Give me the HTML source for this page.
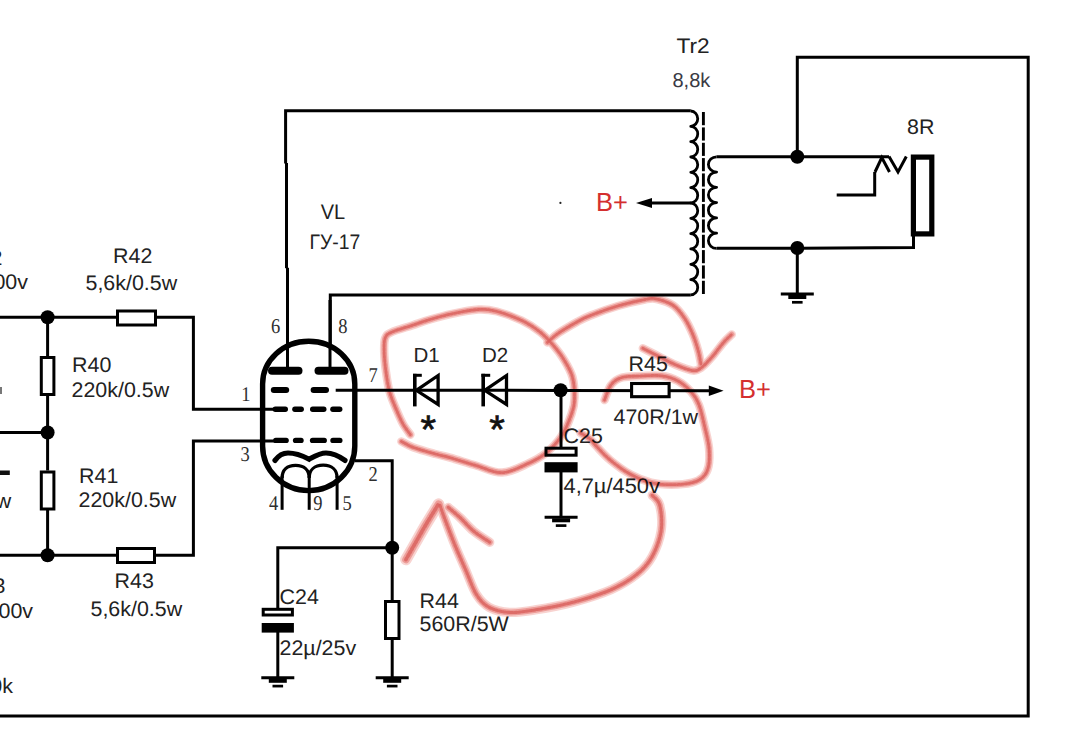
<!DOCTYPE html>
<html><head><meta charset="utf-8"><style>
html,body{margin:0;padding:0;background:#fff;width:1080px;height:735px;overflow:hidden}
svg{display:block}
</style></head><body>
<svg width="1080" height="735" viewBox="0 0 1080 735">
<rect width="1080" height="735" fill="#fff"/>
<g fill="none" stroke="#000" stroke-linecap="butt" stroke-linejoin="miter">
<polyline points="797.3,156 797.3,57.3 1028.2,57.3 1028.2,716 0,716" stroke-width="3"/>
<polyline points="285.6,163.5 285.6,110.8 690.8,110.8" stroke-width="3" stroke-linejoin="miter"/><line x1="286.5" y1="163" x2="286.5" y2="268.2" stroke-width="3"/><line x1="287.5" y1="267.8" x2="287.5" y2="369" stroke-width="3"/>
<polyline points="330.3,369 330.3,295 690.8,295" stroke-width="3" stroke-linejoin="miter"/>
<path d="M690.8,111.00 a7.20,7.67 0 0 1 0,15.33 a7.20,7.67 0 0 1 0,15.33 a7.20,7.67 0 0 1 0,15.33 a7.20,7.67 0 0 1 0,15.33 a7.20,7.67 0 0 1 0,15.33 a7.20,7.67 0 0 1 0,15.33 a7.20,7.67 0 0 1 0,15.33 a7.20,7.67 0 0 1 0,15.33 a7.20,7.67 0 0 1 0,15.33 a7.20,7.67 0 0 1 0,15.33 a7.20,7.67 0 0 1 0,15.33 a7.20,7.67 0 0 1 0,15.33" stroke-width="2.8" stroke-linejoin="round"/>
<path d="M716.6,156.80 a8.20,7.63 0 0 0 0,15.27 a8.20,7.63 0 0 0 0,15.27 a8.20,7.63 0 0 0 0,15.27 a8.20,7.63 0 0 0 0,15.27 a8.20,7.63 0 0 0 0,15.27 a8.20,7.63 0 0 0 0,15.27" stroke-width="2.8" stroke-linejoin="round"/>
<line x1="703.4" y1="112" x2="703.4" y2="294" stroke-width="2.9"/>
<line x1="699.5" y1="126.33" x2="707.5" y2="126.33" stroke="#fff" stroke-width="2.2"/>
<line x1="699.5" y1="141.67" x2="707.5" y2="141.67" stroke="#fff" stroke-width="2.2"/>
<line x1="699.5" y1="157.00" x2="707.5" y2="157.00" stroke="#fff" stroke-width="2.2"/>
<line x1="699.5" y1="172.33" x2="707.5" y2="172.33" stroke="#fff" stroke-width="2.2"/>
<line x1="699.5" y1="187.67" x2="707.5" y2="187.67" stroke="#fff" stroke-width="2.2"/>
<line x1="699.5" y1="203.00" x2="707.5" y2="203.00" stroke="#fff" stroke-width="2.2"/>
<line x1="699.5" y1="218.33" x2="707.5" y2="218.33" stroke="#fff" stroke-width="2.2"/>
<line x1="699.5" y1="233.67" x2="707.5" y2="233.67" stroke="#fff" stroke-width="2.2"/>
<line x1="699.5" y1="249.00" x2="707.5" y2="249.00" stroke="#fff" stroke-width="2.2"/>
<line x1="699.5" y1="264.33" x2="707.5" y2="264.33" stroke="#fff" stroke-width="2.2"/>
<line x1="699.5" y1="279.67" x2="707.5" y2="279.67" stroke="#fff" stroke-width="2.2"/>
<line x1="650" y1="203" x2="690.8" y2="203" stroke-width="2.8"/>
<polygon points="636,203 652,198 652,208" fill="#000" stroke="none"/>
<polyline points="716.6,156.8 889,156.8" stroke-width="3"/>
<polyline points="716.6,248.2 800,248.2 913.5,247.6 913.5,236" stroke-width="3"/>
<circle cx="797.3" cy="156.8" r="7" fill="#000" stroke="none"/>
<circle cx="797.3" cy="248" r="7" fill="#000" stroke="none"/>
<line x1="797.3" y1="248" x2="797.3" y2="294" stroke-width="3"/>
<line x1="780.8" y1="294" x2="813.8" y2="294" stroke-width="3"/><line x1="788.3" y1="297" x2="806.3" y2="297" stroke-width="4"/><line x1="792.0" y1="302.3" x2="802.5999999999999" y2="302.3" stroke-width="2.7"/>
<polyline points="889,156.5 898,172 906.3,156.5" stroke-width="3"/>
<polyline points="875,172 881.8,157.5 889.5,172" stroke-width="3"/>
<polyline points="874.7,172 874.7,195 836.7,195" stroke-width="3"/>
<rect x="913.4" y="157.1" width="18.4" height="76.8" stroke-width="5.2" fill="#fff"/>
<path d="M262.6,384 A46.1,42.7 0 0 1 354.8,384 L354.8,446 A46.1,44.6 0 0 1 262.6,446 Z" stroke-width="5.4" fill="#fff"/>
<line x1="272" y1="370.7" x2="298.5" y2="370.7" stroke-width="8" stroke-linecap="round"/>
<line x1="318.5" y1="370.7" x2="344.5" y2="370.7" stroke-width="8" stroke-linecap="round"/>
<line x1="287.5" y1="300" x2="287.5" y2="370" stroke-width="3"/>
<line x1="330" y1="300" x2="330" y2="370" stroke-width="3"/>
<line x1="273.8" y1="390" x2="286.2" y2="390" stroke-width="6" stroke-linecap="round"/>
<line x1="313.6" y1="390" x2="326" y2="390" stroke-width="6" stroke-linecap="round"/>
<line x1="335.7" y1="390.3" x2="414" y2="390.3" stroke-width="3"/>
<line x1="275.3" y1="409.2" x2="285.3" y2="409.2" stroke-width="5.4" stroke-linecap="round"/>
<line x1="294.9" y1="409.2" x2="301.2" y2="409.2" stroke-width="5.4" stroke-linecap="round"/>
<line x1="312.7" y1="409.2" x2="323.8" y2="409.2" stroke-width="5.4" stroke-linecap="round"/>
<line x1="332.9" y1="409.2" x2="339.7" y2="409.2" stroke-width="5.4" stroke-linecap="round"/>
<line x1="275.8" y1="440.4" x2="286.1" y2="440.4" stroke-width="5.4" stroke-linecap="round"/>
<line x1="295.59999999999997" y1="440.4" x2="301.0" y2="440.4" stroke-width="5.4" stroke-linecap="round"/>
<line x1="312.59999999999997" y1="440.4" x2="324.2" y2="440.4" stroke-width="5.4" stroke-linecap="round"/>
<line x1="333.0" y1="440.4" x2="339.8" y2="440.4" stroke-width="5.4" stroke-linecap="round"/>
<path d="M275,460.4 C279,455 283,453 288,453 C297,453 303,456 309.2,459.2 C315,456 320,453 326,453 C333,453 339,456 345,460.4" stroke-width="5.2" stroke-linecap="round"/>
<path d="M282.1,478 C282.1,470 287,465.4 295.6,465.4 C304,465.4 309.2,470 309.2,478 M309.2,478 C309.2,470 314.5,465.2 323.2,465.2 C332,465.2 337.1,470 337.1,478" stroke-width="3.3"/>
<line x1="282.1" y1="476" x2="282.1" y2="509.8" stroke-width="3"/>
<line x1="309.2" y1="476" x2="309.2" y2="509.8" stroke-width="3"/>
<line x1="337.1" y1="476" x2="337.1" y2="509.8" stroke-width="3"/>
<polyline points="0,317.3 116,317.3" stroke-width="3"/>
<polyline points="156,317.3 193.4,317.3 193.4,409.2 275,409.2" stroke-width="3"/>
<polyline points="275,441 193.4,441 193.4,555.3 155.5,555.3" stroke-width="3"/>
<polyline points="116,555.3 0,555.3" stroke-width="3"/>
<polyline points="0,432.5 47.6,432.5" stroke-width="3"/>
<line x1="47.6" y1="317.3" x2="47.6" y2="356" stroke-width="3"/>
<line x1="47.6" y1="396" x2="47.6" y2="470.5" stroke-width="3"/>
<line x1="47.6" y1="510" x2="47.6" y2="555.3" stroke-width="3"/>
<circle cx="47.6" cy="317.3" r="7" fill="#000" stroke="none"/>
<circle cx="47.6" cy="432.5" r="7" fill="#000" stroke="none"/>
<circle cx="47.6" cy="555.3" r="7" fill="#000" stroke="none"/>
<rect x="117.5" y="311" width="38" height="14" stroke-width="3" fill="#fff"/>
<rect x="117.5" y="548.5" width="37" height="14" stroke-width="3" fill="#fff"/>
<rect x="41.3" y="357.5" width="12.6" height="37" stroke-width="3" fill="#fff"/>
<rect x="41.3" y="472" width="12.6" height="37" stroke-width="3" fill="#fff"/>
<polyline points="355,460.8 392.2,460.8 392.2,601.5" stroke-width="3"/>
<rect x="385.5" y="601.5" width="13.5" height="37" stroke-width="3" fill="#fff"/>
<line x1="392.2" y1="640" x2="392.2" y2="678" stroke-width="3"/>
<line x1="375.7" y1="677.8" x2="408.7" y2="677.8" stroke-width="3"/><line x1="383.2" y1="680.8" x2="401.2" y2="680.8" stroke-width="4"/><line x1="386.9" y1="686.0999999999999" x2="397.5" y2="686.0999999999999" stroke-width="2.7"/>
<circle cx="392.2" cy="547.8" r="7" fill="#000" stroke="none"/>
<polyline points="392.2,547.8 277.8,547.8 277.8,609" stroke-width="3"/>
<rect x="263.2" y="609.3" width="29.2" height="5.7" stroke-width="3" fill="#fff"/>
<rect x="261.7" y="623" width="32.2" height="9.6" fill="#000" stroke="none"/>
<line x1="277.8" y1="632" x2="277.8" y2="678" stroke-width="3"/>
<line x1="261.3" y1="677.8" x2="294.3" y2="677.8" stroke-width="3"/><line x1="268.8" y1="680.8" x2="286.8" y2="680.8" stroke-width="4"/><line x1="272.5" y1="686.0999999999999" x2="283.1" y2="686.0999999999999" stroke-width="2.7"/>
<line x1="414.8" y1="373.8" x2="414.8" y2="406.4" stroke-width="3.6"/>
<line x1="413.0" y1="375.3" x2="421.8" y2="375.3" stroke-width="3"/>
<polygon points="416.3,390.3 438.1,375.5 438.1,404.5" stroke-width="3.3" fill="none" stroke-linejoin="miter"/>
<line x1="483.2" y1="373.8" x2="483.2" y2="406.4" stroke-width="3.6"/>
<line x1="481.4" y1="375.3" x2="490.2" y2="375.3" stroke-width="3"/>
<polygon points="484.7,390.3 506.5,375.5 506.5,404.5" stroke-width="3.3" fill="none" stroke-linejoin="miter"/>
<polyline points="414,390.3 560,390.4 709,390.8" stroke-width="3"/>
<circle cx="560.6" cy="390.3" r="7" fill="#000" stroke="none"/>
<line x1="561" y1="390" x2="561" y2="448" stroke-width="3"/>
<rect x="546" y="448.2" width="30.1" height="7" stroke-width="3" fill="#fff"/>
<rect x="544.5" y="462.2" width="33.1" height="10.2" fill="#000" stroke="none"/>
<line x1="561" y1="472" x2="561" y2="517.3" stroke-width="3"/>
<line x1="544.6" y1="517.3" x2="577.6" y2="517.3" stroke-width="3"/><line x1="552.1" y1="520.3" x2="570.1" y2="520.3" stroke-width="4"/><line x1="555.8000000000001" y1="525.5999999999999" x2="566.4" y2="525.5999999999999" stroke-width="2.7"/>
<rect x="631.6" y="383.5" width="37.5" height="13.2" stroke-width="3.1" fill="#fff"/>
<polygon points="723.6,390.8 708.8,385.5 708.8,396" fill="#000" stroke="none"/>
<circle cx="560.4" cy="202.9" r="1.1" fill="#222" stroke="none"/><rect x="0" y="470.5" width="9.8" height="4.5" fill="#111" stroke="none"/><rect x="0" y="387" width="2" height="7" fill="#777" stroke="none"/>
</g>
<g text-rendering="geometricPrecision">
<text transform="translate(676.5,53) scale(1.08,1)" font-size="21" fill="#222" font-family="Liberation Sans" >Tr2</text><text transform="translate(672.5,86.5) scale(1.0,1)" font-size="20" fill="#3a3a44" font-family="Liberation Sans" >8,8k</text><text transform="translate(907,134) scale(1.02,1)" font-size="21" fill="#222" font-family="Liberation Sans" >8R</text><text transform="translate(320.8,218.5) scale(0.95,1)" font-size="21" fill="#222" font-family="Liberation Sans" >VL</text><text transform="translate(309.5,249) scale(0.92,1)" font-size="21" fill="#222" font-family="Liberation Sans" >ГУ-17</text><text transform="translate(596,210.5) scale(0.98,1)" font-size="26" fill="#d42f2f" font-family="Liberation Sans" >B+</text><text transform="translate(739,398.3) scale(0.98,1)" font-size="26" fill="#d42f2f" font-family="Liberation Sans" >B+</text><text transform="translate(113,263) scale(1.02,1)" font-size="21" fill="#222" font-family="Liberation Sans" >R42</text><text transform="translate(85.5,290) scale(1.02,1)" font-size="21" fill="#222" font-family="Liberation Sans" >5,6k/0.5w</text><text transform="translate(72,371.5) scale(1.02,1)" font-size="21" fill="#222" font-family="Liberation Sans" >R40</text><text transform="translate(71.5,396.5) scale(1.02,1)" font-size="21" fill="#222" font-family="Liberation Sans" >220k/0.5w</text><text transform="translate(79,482.5) scale(1.02,1)" font-size="21" fill="#222" font-family="Liberation Sans" >R41</text><text transform="translate(78.5,506.5) scale(1.02,1)" font-size="21" fill="#222" font-family="Liberation Sans" >220k/0.5w</text><text transform="translate(114.5,588.3) scale(1.02,1)" font-size="21" fill="#222" font-family="Liberation Sans" >R43</text><text transform="translate(90.5,616) scale(1.02,1)" font-size="21" fill="#222" font-family="Liberation Sans" >5,6k/0.5w</text><text transform="translate(279.5,604) scale(1.02,1)" font-size="21" fill="#222" font-family="Liberation Sans" >C24</text><text transform="translate(279.5,654.5) scale(1.02,1)" font-size="21" fill="#222" font-family="Liberation Sans" >22µ/25v</text><text transform="translate(419.5,607.5) scale(1.02,1)" font-size="21" fill="#222" font-family="Liberation Sans" >R44</text><text transform="translate(419.5,631) scale(1.02,1)" font-size="21" fill="#222" font-family="Liberation Sans" >560R/5W</text><text transform="translate(413.5,362.3) scale(1.0,1)" font-size="20.5" fill="#222" font-family="Liberation Sans" >D1</text><text transform="translate(482,362.3) scale(1.0,1)" font-size="20.5" fill="#222" font-family="Liberation Sans" >D2</text><text transform="translate(628.5,371) scale(1.02,1)" font-size="21" fill="#222" font-family="Liberation Sans" >R45</text><text transform="translate(613.5,423.5) scale(1.02,1)" font-size="21" fill="#222" font-family="Liberation Sans" >470R/1w</text><text transform="translate(563.5,443) scale(1.02,1)" font-size="21" fill="#222" font-family="Liberation Sans" >C25</text><text transform="translate(563.5,493.3) scale(1.04,1)" font-size="21" fill="#222" font-family="Liberation Sans" >4,7µ/450v</text><text transform="translate(-18.5,288.5) scale(1.02,1)" font-size="21" fill="#222" font-family="Liberation Sans" >300v</text><text transform="translate(-13.4,618) scale(1.02,1)" font-size="21" fill="#222" font-family="Liberation Sans" >300v</text><text transform="translate(-21.6,692.5) scale(1.02,1)" font-size="21" fill="#222" font-family="Liberation Sans" >10k</text><text transform="translate(-9.5,264.5) scale(1.02,1)" font-size="21" fill="#222" font-family="Liberation Sans" >2</text><text transform="translate(-6.5,592.5) scale(1.02,1)" font-size="21" fill="#222" font-family="Liberation Sans" >3</text><text transform="translate(-34,507.5) scale(1.02,1)" font-size="21" fill="#222" font-family="Liberation Sans" >0.5w</text><text transform="translate(420.5,443) scale(1.0,1)" font-size="40" fill="#111" font-family="Liberation Sans" stroke="#111" stroke-width="0.7">*</text><text transform="translate(489.2,443) scale(1.0,1)" font-size="40" fill="#111" font-family="Liberation Sans" stroke="#111" stroke-width="0.7">*</text><text transform="translate(271,333) scale(0.88,1)" font-size="21" fill="#2e2e2e" font-family="Liberation Serif" >6</text><text transform="translate(338.3,333) scale(0.88,1)" font-size="21" fill="#2e2e2e" font-family="Liberation Serif" >8</text><text transform="translate(241.3,401) scale(0.88,1)" font-size="21" fill="#2e2e2e" font-family="Liberation Serif" >1</text><text transform="translate(240.5,461.3) scale(0.88,1)" font-size="21" fill="#2e2e2e" font-family="Liberation Serif" >3</text><text transform="translate(368.5,382) scale(0.88,1)" font-size="21" fill="#2e2e2e" font-family="Liberation Serif" >7</text><text transform="translate(368.5,481) scale(0.88,1)" font-size="21" fill="#2e2e2e" font-family="Liberation Serif" >2</text><text transform="translate(269,509.6) scale(0.88,1)" font-size="21" fill="#2e2e2e" font-family="Liberation Serif" >4</text><text transform="translate(313.2,509.6) scale(0.88,1)" font-size="21" fill="#2e2e2e" font-family="Liberation Serif" >9</text><text transform="translate(342.5,509.6) scale(0.88,1)" font-size="21" fill="#2e2e2e" font-family="Liberation Serif" >5</text>
</g>
<g fill="none" stroke-linecap="round" stroke-linejoin="round" style="mix-blend-mode:multiply">
<path d="M401.4,441.5 C403.4,442.5 407.9,445.4 413.6,447.5 C419.3,449.6 429.3,452.3 435.4,454.0 C441.5,455.7 443.2,455.8 450.0,457.7 C456.8,459.6 467.3,463.0 476.0,465.5 C484.7,468.0 493.3,472.9 502.0,472.6 C510.7,472.3 520.7,466.8 528.0,463.5 C535.3,460.2 540.4,457.6 546.0,453.0 C551.6,448.4 557.2,442.5 561.5,436.0 C565.8,429.5 569.3,420.3 571.5,414.0 C573.7,407.7 574.4,404.2 574.5,398.0 C574.6,391.8 574.2,383.5 572.4,377.0 C570.6,370.5 566.7,364.3 563.5,359.0 C560.3,353.7 556.9,349.5 553.0,345.0 C549.1,340.5 545.2,336.1 540.0,332.0 C534.8,327.9 528.9,323.9 521.7,320.5 C514.5,317.1 504.2,313.3 497.0,311.5 C489.8,309.7 486.1,309.1 478.6,309.5 C471.1,309.9 460.1,312.1 452.0,313.8 C443.9,315.5 436.5,317.6 430.0,319.5 C423.5,321.4 419.1,323.1 412.8,325.2 C406.5,327.3 396.6,329.9 392.0,332.0 C387.4,334.1 386.5,334.7 385.2,338.0 C383.9,341.3 384.1,346.3 384.2,352.0 C384.3,357.7 385.1,365.4 386.0,372.0 C386.9,378.6 387.8,385.2 389.5,391.5 C391.2,397.8 394.2,404.6 396.5,410.0 C398.8,415.4 400.7,419.9 403.0,424.0 C405.3,428.1 409.2,432.9 410.4,434.7" stroke="#f7cbc8" stroke-width="8.50" opacity="0.85" />
<path d="M547.4,342.4 C549.2,340.8 553.6,336.5 558.5,333.1 C563.4,329.7 571.8,324.9 577.0,322.0 C582.2,319.1 583.2,318.4 590.0,315.7 C596.8,313.0 608.6,308.7 617.8,306.0 C627.0,303.3 638.5,300.7 645.0,299.5 C651.5,298.3 652.0,298.0 656.7,299.0 C661.4,300.0 668.7,302.3 673.3,305.5 C677.9,308.7 681.1,313.2 684.4,318.0 C687.6,322.8 690.5,328.9 692.8,334.4 C695.1,339.9 696.9,346.0 698.3,351.1 C699.7,356.2 700.6,362.7 701.1,365.0" stroke="#f7cbc8" stroke-width="8.50" opacity="0.85" />
<path d="M642.8,348.3 C645.6,349.7 653.8,353.9 659.4,356.7 C665.0,359.5 670.5,362.7 676.1,365.0 C681.7,367.3 688.6,370.1 692.8,370.6 C697.0,371.1 697.9,370.1 701.1,367.8 C704.3,365.5 708.5,360.9 712.2,356.7 C715.9,352.5 720.0,346.5 723.3,342.8 C726.5,339.1 730.3,335.8 731.7,334.4" stroke="#f7cbc8" stroke-width="8.50" opacity="0.85" />
<path d="M580.5,433.0 C582.1,434.0 587.4,436.9 590.0,439.0 C592.6,441.1 592.7,442.4 596.1,445.9 C599.5,449.4 604.6,455.4 610.4,460.2 C616.2,465.0 624.0,470.8 630.8,474.5 C637.6,478.2 644.4,481.0 651.2,482.7 C658.0,484.4 664.8,484.7 671.6,484.7 C678.4,484.7 686.8,484.0 692.0,482.7 C697.2,481.4 700.2,479.7 703.0,477.0 C705.8,474.3 707.5,471.1 708.5,466.3 C709.5,461.5 709.6,454.4 709.0,448.0 C708.4,441.6 706.7,435.2 705.0,428.0 C703.3,420.8 701.3,411.0 699.0,405.0 C696.7,399.0 694.5,395.8 691.0,391.8 C687.5,387.8 682.9,383.7 678.0,381.0 C673.1,378.3 667.6,376.6 661.4,375.8 C655.2,375.0 647.6,375.7 641.0,376.0 C634.4,376.3 627.0,376.0 622.0,377.5 C617.0,379.0 613.9,381.2 611.0,385.0 C608.1,388.8 605.6,397.5 604.5,400.0" stroke="#f7cbc8" stroke-width="8.50" opacity="0.85" />
<path d="M652.2,495.3 C653.5,497.0 658.3,499.6 659.8,505.5 C661.3,511.4 662.4,522.4 661.1,530.9 C659.8,539.4 656.2,549.2 652.2,556.4 C648.2,563.6 643.7,568.7 636.9,574.2 C630.1,579.7 622.1,584.8 611.5,589.5 C600.9,594.2 586.0,598.8 573.3,602.2 C560.5,605.6 545.6,608.2 535.0,609.9 C524.4,611.6 517.2,612.8 509.6,612.4 C502.0,612.0 494.7,610.3 489.2,607.3 C483.7,604.3 480.4,600.8 476.5,594.6 C472.6,588.4 469.1,577.8 465.7,570.0 C462.3,562.2 458.9,554.7 456.1,548.0 C453.3,541.3 451.2,535.7 449.0,530.0 C446.8,524.3 444.6,518.3 443.0,514.0 C441.4,509.7 440.2,505.8 439.6,504.2" stroke="#f7cbc8" stroke-width="9.35" opacity="0.85" />
<path d="M405.9,559.6 C407.5,556.8 412.0,548.9 415.4,543.0 C418.8,537.1 422.1,531.0 426.0,524.5 C429.9,518.0 436.4,507.5 438.5,504.1" stroke="#f7cbc8" stroke-width="11.48" opacity="0.85" />
<path d="M448.3,507.4 C450.2,509.1 455.8,513.6 460.0,517.5 C464.2,521.4 468.6,526.9 473.5,531.0 C478.4,535.1 487.0,540.3 489.7,542.2" stroke="#f7cbc8" stroke-width="9.35" opacity="0.85" />
<path d="M401.4,441.5 C403.4,442.5 407.9,445.4 413.6,447.5 C419.3,449.6 429.3,452.3 435.4,454.0 C441.5,455.7 443.2,455.8 450.0,457.7 C456.8,459.6 467.3,463.0 476.0,465.5 C484.7,468.0 493.3,472.9 502.0,472.6 C510.7,472.3 520.7,466.8 528.0,463.5 C535.3,460.2 540.4,457.6 546.0,453.0 C551.6,448.4 557.2,442.5 561.5,436.0 C565.8,429.5 569.3,420.3 571.5,414.0 C573.7,407.7 574.4,404.2 574.5,398.0 C574.6,391.8 574.2,383.5 572.4,377.0 C570.6,370.5 566.7,364.3 563.5,359.0 C560.3,353.7 556.9,349.5 553.0,345.0 C549.1,340.5 545.2,336.1 540.0,332.0 C534.8,327.9 528.9,323.9 521.7,320.5 C514.5,317.1 504.2,313.3 497.0,311.5 C489.8,309.7 486.1,309.1 478.6,309.5 C471.1,309.9 460.1,312.1 452.0,313.8 C443.9,315.5 436.5,317.6 430.0,319.5 C423.5,321.4 419.1,323.1 412.8,325.2 C406.5,327.3 396.6,329.9 392.0,332.0 C387.4,334.1 386.5,334.7 385.2,338.0 C383.9,341.3 384.1,346.3 384.2,352.0 C384.3,357.7 385.1,365.4 386.0,372.0 C386.9,378.6 387.8,385.2 389.5,391.5 C391.2,397.8 394.2,404.6 396.5,410.0 C398.8,415.4 400.7,419.9 403.0,424.0 C405.3,428.1 409.2,432.9 410.4,434.7" stroke="#ec9893" stroke-width="5.50" opacity="0.9" />
<path d="M547.4,342.4 C549.2,340.8 553.6,336.5 558.5,333.1 C563.4,329.7 571.8,324.9 577.0,322.0 C582.2,319.1 583.2,318.4 590.0,315.7 C596.8,313.0 608.6,308.7 617.8,306.0 C627.0,303.3 638.5,300.7 645.0,299.5 C651.5,298.3 652.0,298.0 656.7,299.0 C661.4,300.0 668.7,302.3 673.3,305.5 C677.9,308.7 681.1,313.2 684.4,318.0 C687.6,322.8 690.5,328.9 692.8,334.4 C695.1,339.9 696.9,346.0 698.3,351.1 C699.7,356.2 700.6,362.7 701.1,365.0" stroke="#ec9893" stroke-width="5.50" opacity="0.9" />
<path d="M642.8,348.3 C645.6,349.7 653.8,353.9 659.4,356.7 C665.0,359.5 670.5,362.7 676.1,365.0 C681.7,367.3 688.6,370.1 692.8,370.6 C697.0,371.1 697.9,370.1 701.1,367.8 C704.3,365.5 708.5,360.9 712.2,356.7 C715.9,352.5 720.0,346.5 723.3,342.8 C726.5,339.1 730.3,335.8 731.7,334.4" stroke="#ec9893" stroke-width="5.50" opacity="0.9" />
<path d="M580.5,433.0 C582.1,434.0 587.4,436.9 590.0,439.0 C592.6,441.1 592.7,442.4 596.1,445.9 C599.5,449.4 604.6,455.4 610.4,460.2 C616.2,465.0 624.0,470.8 630.8,474.5 C637.6,478.2 644.4,481.0 651.2,482.7 C658.0,484.4 664.8,484.7 671.6,484.7 C678.4,484.7 686.8,484.0 692.0,482.7 C697.2,481.4 700.2,479.7 703.0,477.0 C705.8,474.3 707.5,471.1 708.5,466.3 C709.5,461.5 709.6,454.4 709.0,448.0 C708.4,441.6 706.7,435.2 705.0,428.0 C703.3,420.8 701.3,411.0 699.0,405.0 C696.7,399.0 694.5,395.8 691.0,391.8 C687.5,387.8 682.9,383.7 678.0,381.0 C673.1,378.3 667.6,376.6 661.4,375.8 C655.2,375.0 647.6,375.7 641.0,376.0 C634.4,376.3 627.0,376.0 622.0,377.5 C617.0,379.0 613.9,381.2 611.0,385.0 C608.1,388.8 605.6,397.5 604.5,400.0" stroke="#ec9893" stroke-width="5.50" opacity="0.9" />
<path d="M652.2,495.3 C653.5,497.0 658.3,499.6 659.8,505.5 C661.3,511.4 662.4,522.4 661.1,530.9 C659.8,539.4 656.2,549.2 652.2,556.4 C648.2,563.6 643.7,568.7 636.9,574.2 C630.1,579.7 622.1,584.8 611.5,589.5 C600.9,594.2 586.0,598.8 573.3,602.2 C560.5,605.6 545.6,608.2 535.0,609.9 C524.4,611.6 517.2,612.8 509.6,612.4 C502.0,612.0 494.7,610.3 489.2,607.3 C483.7,604.3 480.4,600.8 476.5,594.6 C472.6,588.4 469.1,577.8 465.7,570.0 C462.3,562.2 458.9,554.7 456.1,548.0 C453.3,541.3 451.2,535.7 449.0,530.0 C446.8,524.3 444.6,518.3 443.0,514.0 C441.4,509.7 440.2,505.8 439.6,504.2" stroke="#ec9893" stroke-width="6.05" opacity="0.9" />
<path d="M405.9,559.6 C407.5,556.8 412.0,548.9 415.4,543.0 C418.8,537.1 422.1,531.0 426.0,524.5 C429.9,518.0 436.4,507.5 438.5,504.1" stroke="#ec9893" stroke-width="7.43" opacity="0.9" />
<path d="M448.3,507.4 C450.2,509.1 455.8,513.6 460.0,517.5 C464.2,521.4 468.6,526.9 473.5,531.0 C478.4,535.1 487.0,540.3 489.7,542.2" stroke="#ec9893" stroke-width="6.05" opacity="0.9" />
<path d="M401.4,441.5 C403.4,442.5 407.9,445.4 413.6,447.5 C419.3,449.6 429.3,452.3 435.4,454.0 C441.5,455.7 443.2,455.8 450.0,457.7 C456.8,459.6 467.3,463.0 476.0,465.5 C484.7,468.0 493.3,472.9 502.0,472.6 C510.7,472.3 520.7,466.8 528.0,463.5 C535.3,460.2 540.4,457.6 546.0,453.0 C551.6,448.4 557.2,442.5 561.5,436.0 C565.8,429.5 569.3,420.3 571.5,414.0 C573.7,407.7 574.4,404.2 574.5,398.0 C574.6,391.8 574.2,383.5 572.4,377.0 C570.6,370.5 566.7,364.3 563.5,359.0 C560.3,353.7 556.9,349.5 553.0,345.0 C549.1,340.5 545.2,336.1 540.0,332.0 C534.8,327.9 528.9,323.9 521.7,320.5 C514.5,317.1 504.2,313.3 497.0,311.5 C489.8,309.7 486.1,309.1 478.6,309.5 C471.1,309.9 460.1,312.1 452.0,313.8 C443.9,315.5 436.5,317.6 430.0,319.5 C423.5,321.4 419.1,323.1 412.8,325.2 C406.5,327.3 396.6,329.9 392.0,332.0 C387.4,334.1 386.5,334.7 385.2,338.0 C383.9,341.3 384.1,346.3 384.2,352.0 C384.3,357.7 385.1,365.4 386.0,372.0 C386.9,378.6 387.8,385.2 389.5,391.5 C391.2,397.8 394.2,404.6 396.5,410.0 C398.8,415.4 400.7,419.9 403.0,424.0 C405.3,428.1 409.2,432.9 410.4,434.7" stroke="#d9605c" stroke-width="2.80" opacity="0.8" stroke-dasharray="2.2 1.6"/>
<path d="M547.4,342.4 C549.2,340.8 553.6,336.5 558.5,333.1 C563.4,329.7 571.8,324.9 577.0,322.0 C582.2,319.1 583.2,318.4 590.0,315.7 C596.8,313.0 608.6,308.7 617.8,306.0 C627.0,303.3 638.5,300.7 645.0,299.5 C651.5,298.3 652.0,298.0 656.7,299.0 C661.4,300.0 668.7,302.3 673.3,305.5 C677.9,308.7 681.1,313.2 684.4,318.0 C687.6,322.8 690.5,328.9 692.8,334.4 C695.1,339.9 696.9,346.0 698.3,351.1 C699.7,356.2 700.6,362.7 701.1,365.0" stroke="#d9605c" stroke-width="2.80" opacity="0.8" stroke-dasharray="2.2 1.6"/>
<path d="M642.8,348.3 C645.6,349.7 653.8,353.9 659.4,356.7 C665.0,359.5 670.5,362.7 676.1,365.0 C681.7,367.3 688.6,370.1 692.8,370.6 C697.0,371.1 697.9,370.1 701.1,367.8 C704.3,365.5 708.5,360.9 712.2,356.7 C715.9,352.5 720.0,346.5 723.3,342.8 C726.5,339.1 730.3,335.8 731.7,334.4" stroke="#d9605c" stroke-width="2.80" opacity="0.8" stroke-dasharray="2.2 1.6"/>
<path d="M580.5,433.0 C582.1,434.0 587.4,436.9 590.0,439.0 C592.6,441.1 592.7,442.4 596.1,445.9 C599.5,449.4 604.6,455.4 610.4,460.2 C616.2,465.0 624.0,470.8 630.8,474.5 C637.6,478.2 644.4,481.0 651.2,482.7 C658.0,484.4 664.8,484.7 671.6,484.7 C678.4,484.7 686.8,484.0 692.0,482.7 C697.2,481.4 700.2,479.7 703.0,477.0 C705.8,474.3 707.5,471.1 708.5,466.3 C709.5,461.5 709.6,454.4 709.0,448.0 C708.4,441.6 706.7,435.2 705.0,428.0 C703.3,420.8 701.3,411.0 699.0,405.0 C696.7,399.0 694.5,395.8 691.0,391.8 C687.5,387.8 682.9,383.7 678.0,381.0 C673.1,378.3 667.6,376.6 661.4,375.8 C655.2,375.0 647.6,375.7 641.0,376.0 C634.4,376.3 627.0,376.0 622.0,377.5 C617.0,379.0 613.9,381.2 611.0,385.0 C608.1,388.8 605.6,397.5 604.5,400.0" stroke="#d9605c" stroke-width="2.80" opacity="0.8" stroke-dasharray="2.2 1.6"/>
<path d="M652.2,495.3 C653.5,497.0 658.3,499.6 659.8,505.5 C661.3,511.4 662.4,522.4 661.1,530.9 C659.8,539.4 656.2,549.2 652.2,556.4 C648.2,563.6 643.7,568.7 636.9,574.2 C630.1,579.7 622.1,584.8 611.5,589.5 C600.9,594.2 586.0,598.8 573.3,602.2 C560.5,605.6 545.6,608.2 535.0,609.9 C524.4,611.6 517.2,612.8 509.6,612.4 C502.0,612.0 494.7,610.3 489.2,607.3 C483.7,604.3 480.4,600.8 476.5,594.6 C472.6,588.4 469.1,577.8 465.7,570.0 C462.3,562.2 458.9,554.7 456.1,548.0 C453.3,541.3 451.2,535.7 449.0,530.0 C446.8,524.3 444.6,518.3 443.0,514.0 C441.4,509.7 440.2,505.8 439.6,504.2" stroke="#d9605c" stroke-width="3.08" opacity="0.8" stroke-dasharray="2.2 1.6"/>
<path d="M405.9,559.6 C407.5,556.8 412.0,548.9 415.4,543.0 C418.8,537.1 422.1,531.0 426.0,524.5 C429.9,518.0 436.4,507.5 438.5,504.1" stroke="#d9605c" stroke-width="3.78" opacity="0.8" stroke-dasharray="2.2 1.6"/>
<path d="M448.3,507.4 C450.2,509.1 455.8,513.6 460.0,517.5 C464.2,521.4 468.6,526.9 473.5,531.0 C478.4,535.1 487.0,540.3 489.7,542.2" stroke="#d9605c" stroke-width="3.08" opacity="0.8" stroke-dasharray="2.2 1.6"/>
</g>
</svg>
</body></html>
